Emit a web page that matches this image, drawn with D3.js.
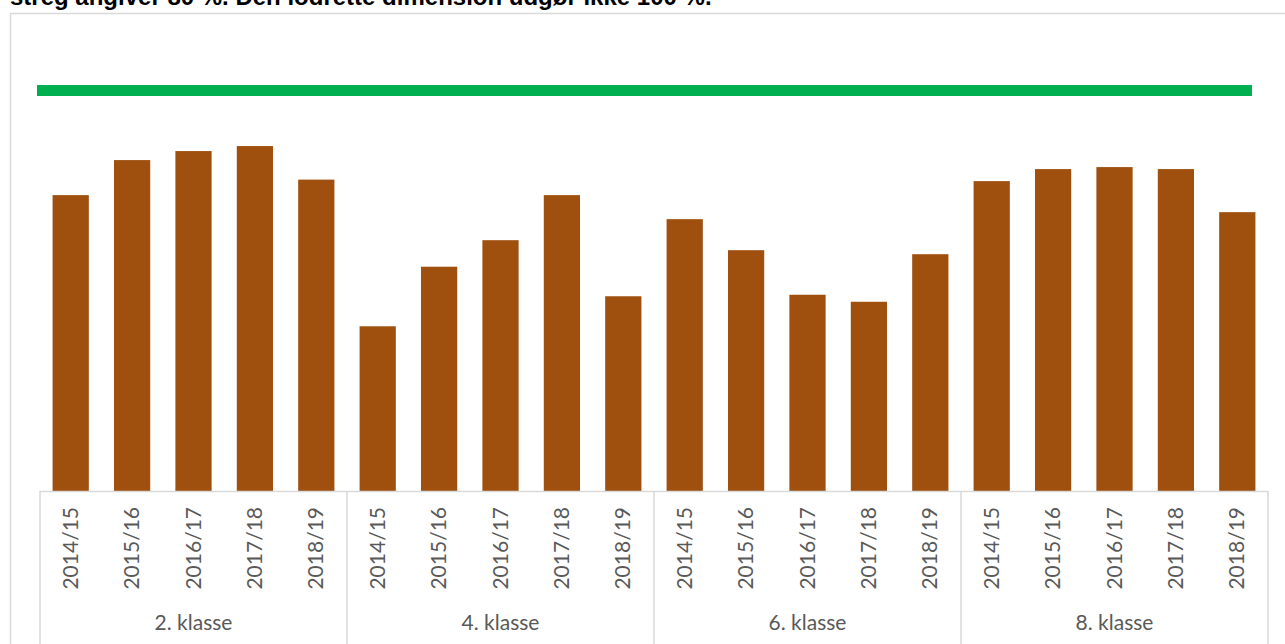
<!DOCTYPE html>
<html>
<head>
<meta charset="utf-8">
<script src="https://cdn.jsdelivr.net/npm/d3@7"></script>
<style>
  html, body { margin: 0; padding: 0; background: #fff; }
  svg { display: block; }
</style>
</head>
<body>
<svg id="chart" width="1285" height="644"></svg>
<script>
// ---- data ----
const titleText = "streg angiver 80 %. Den lodrette dimension udgør ikke 100 %.";
const groups = ["2. klasse", "4. klasse", "6. klasse", "8. klasse"];
const years = ["2014/15", "2015/16", "2016/17", "2017/18", "2018/19"];
const values2 = [59.1, 66.1, 67.9, 68.9, 62.2];
const values4 = [32.9, 44.8, 50.1, 59.1, 38.9];
const values6 = [54.3, 48.1, 39.2, 37.8, 47.3];
const values8 = [61.9, 64.3, 64.7, 64.3, 55.7];
const target = 80;

const seriesByGroup = [values2, values4, values6, values8];
const rows = [];
groups.forEach((g, gi) => years.forEach((y, yi) => rows.push({ group: g, year: y, key: g + "|" + y, value: seriesByGroup[gi][yi] })));

// ---- layout ----
const svg = d3.select("#chart");
const left = 40, right = 1268, base = 491, bottom = 644;

const x = d3.scaleBand().domain(rows.map(d => d.key)).range([left, right])
  .paddingInner(0.41).paddingOuter(0.205);
const y = d3.scaleLinear().domain([0, target]).range([base, 90.5]);

// frame
svg.append("rect").attr("x", 10.5).attr("y", 13.5).attr("width", 1290).attr("height", 640)
  .attr("fill", "none").attr("stroke", "#d9d9d9").attr("stroke-width", 1.5);

// title (cut off at top)
svg.append("text").attr("x", 10).attr("y", 5)
  .attr("font-family", "Liberation Sans, Arial, sans-serif").attr("font-weight", "bold")
  .attr("font-size", 24).attr("fill", "#000").text(titleText);

// bars
svg.append("g").selectAll("rect").data(rows).join("rect")
  .attr("x", d => x(d.key)).attr("width", x.bandwidth())
  .attr("y", d => y(d.value)).attr("height", d => y(0) - y(d.value))
  .attr("fill", "#9f4f0e");

// target line
svg.append("line").attr("x1", left - 3).attr("x2", right - 16)
  .attr("y1", y(target)).attr("y2", y(target))
  .attr("stroke", "#00b050").attr("stroke-width", 11);

// axis line
const axisColor = "#d9d9d9";
svg.append("line").attr("x1", left).attr("x2", right).attr("y1", base + 0.5).attr("y2", base + 0.5)
  .attr("stroke", axisColor).attr("stroke-width", 1.5);

// group dividers
const step = x.step();
const dividers = d3.range(groups.length + 1).map(i => left + i * step * years.length);
svg.append("g").selectAll("line").data(dividers).join("line")
  .attr("x1", d => d).attr("x2", d => d).attr("y1", base).attr("y2", bottom)
  .attr("stroke", axisColor).attr("stroke-width", 1.5);

// year labels
const labelFont = "Lato, 'Noto Sans', sans-serif";
svg.append("g").selectAll("text").data(rows).join("text")
  .attr("transform", d => `translate(${x(d.key) + x.bandwidth() / 2 + 7},507) rotate(-90)`)
  .attr("text-anchor", "end").attr("font-family", labelFont).attr("font-size", 21)
  .attr("fill", "#595959").text(d => d.year);

// group labels
svg.append("g").selectAll("text").data(groups).join("text")
  .attr("x", (d, i) => (dividers[i] + dividers[i + 1]) / 2).attr("y", 630)
  .attr("text-anchor", "middle").attr("font-family", labelFont).attr("font-size", 21)
  .attr("fill", "#595959").text(d => d);
</script>
</body>
</html>
